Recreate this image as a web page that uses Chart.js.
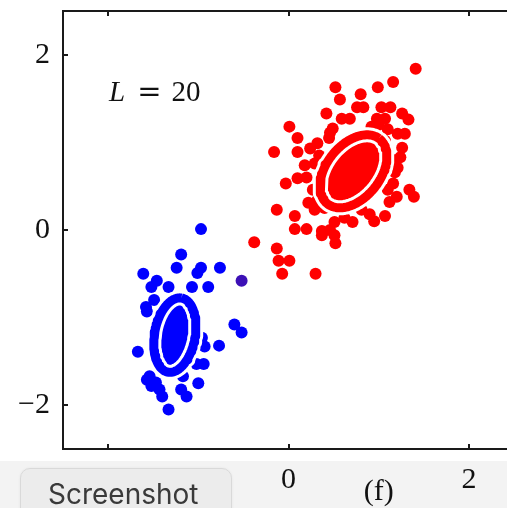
<!DOCTYPE html>
<html>
<head>
<meta charset="utf-8">
<script src="https://cdn.jsdelivr.net/npm/chart.js@4"></script>
<style>
  html, body { margin: 0; padding: 0; overflow: hidden; background: #fff; }
  #wrap { position: relative; width: 507px; height: 508px; overflow: hidden; }
  #band { position: absolute; left: 0; top: 461px; width: 507px; height: 47px; background: #f3f3f3; }
  #plot { position: absolute; left: 0; top: 0; }
  #btn {
    position: absolute; left: 20px; top: 468px; width: 212px; height: 60px;
    box-sizing: border-box; border-radius: 10px;
    background: #ececec; border: 1px solid #d9d9d9;
    box-shadow: 0 0 3px rgba(0,0,0,0.06);
    font-family: Inter, "Noto Sans", sans-serif; font-size: 28px; color: #3a3a3a;
    padding-left: 27px; padding-top: 8px; line-height: 34px;
  }
</style>
</head>
<body>
<div id="wrap">
  <div id="band"></div>
  <canvas id="plot" width="540" height="508"></canvas>
  <div id="btn">Screenshot</div>
</div>
<script>
// Class 1 samples (red)
const redX = [1.41, 1.16, 0.99, 0.52, 0.80, 0.57, 0.76, 0.83, 1.03, 1.13,
              0.42, 1.26, 0.59, 0.98, 1.07, 1.33, 0.01, 0.46, 1.21, 1.29,
              0.10, -0.16, 0.10, 0.24, 0.32, 1.26, 1.24, 0.18, 1.18, 0.10,
              0.20, -0.03, 1.16, 1.34, 1.39, 0.22, 1.12, 1.20, -0.13, 0.07,
              0.29, 0.90, 1.07, 0.07, 0.20, 0.37, 0.46, 0.37, 0.51, 0.52,
              0.71, -0.38, -0.13, -0.11, 0.01, -0.07, 0.30, 0.49, 0.68, 0.34,
              0.29, 0.27, 0.32, 1.16, 1.21, 1.10, 0.62, 0.81, 0.51, 1.07,
              0.92, 0.62, 0.73, 0.81, 0.57, 0.68, 0.84, 0.76, 0.60, 0.79,
              1.00, 0.95, 0.40, 0.45, 1.10, 0.40];
const redY = [1.84, 1.69, 1.63, 1.63, 1.55, 1.49, 1.40, 1.40, 1.40, 1.40,
              1.33, 1.33, 1.27, 1.27, 1.27, 1.26, 1.18, 1.11, 1.10, 1.10,
              1.05, 0.89, 0.89, 0.93, 0.99, 0.94, 0.83, 0.74, 0.66, 0.59,
              0.60, 0.53, 0.53, 0.46, 0.38, 0.31, 0.32, 0.38, 0.23, 0.16,
              0.23, 0.18, 0.16, 0.01, 0.01, -0.01, 0.00, -0.06, -0.06, -0.15,
              0.09, -0.14, -0.21, -0.35, -0.35, -0.50, -0.50, 1.16, 1.27, 0.85,
              0.76, 0.46, 0.34, 0.80, 0.71, 0.46, 0.14, 0.23, 0.09, 1.02,
              1.18, 0.80, 0.91, 0.74, 0.57, 0.46, 0.57, 0.66, 0.71, 0.85,
              1.20, 0.10, 0.25, 1.05, 1.15, 0.60];

// Class 2 samples (blue)
const blueX = [-0.97, -1.19, -1.24, -0.97, -1.01, -0.76, -1.61, -1.46, -1.52, -1.33,
               -1.07, -0.89, -1.49, -1.58, -1.57, -0.60, -0.52, -0.96, -0.93, -0.77,
               -1.67, -1.02, -0.94, -1.54, -1.47, -1.52, -1.43, -1.40, -1.17, -1.19,
               -1.13, -1.00, -1.33, -1.57, -1.30, -1.22];
const blueY = [0.01, -0.28, -0.43, -0.43, -0.49, -0.43, -0.50, -0.58, -0.65, -0.65,
               -0.65, -0.65, -0.80, -0.88, -0.93, -1.08, -1.17, -1.23, -1.33, -1.32,
               -1.39, -1.53, -1.53, -1.67, -1.74, -1.78, -1.82, -1.90, -1.67, -1.82,
               -1.90, -1.75, -2.05, -1.71, -1.10, -1.30];

// Ambiguous sample between the classes
const mixedX = [-0.52];
const mixedY = [-0.58];

// Covariance ellipses: [centre x, centre y, semi-major, semi-minor, angle in degrees]
const redEllipse  = [0.72, 0.67, 0.47, 0.30, 53];
const blueEllipse = [-1.26, -1.20, 0.43, 0.225, 80];

// Axes
const xTicks = [-2, 0, 2];
const xTickLabels = ['\u22122', '0', '2'];
const yTicks = [-2, 0, 2];
const yTickLabels = ['\u22122', '0', '2'];
const axisMin = -2.5, axisMax = 2.5;

const panelLabel = { x: -1.99, y: 1.47, name: 'L', value: '20' };
const caption = { x: 1.0, text: '(f)' };

function toPoints(xs, ys) { return xs.map((x, i) => ({ x: x, y: ys[i] })); }

function ellipseOutline(e) {
  const [cx, cy, a, b, deg] = e;
  const t = deg * Math.PI / 180;
  const pts = [];
  const n = 120;
  for (let i = 0; i <= n; i++) {
    const u = i / n * 2 * Math.PI;
    pts.push({
      x: cx + a * Math.cos(u) * Math.cos(t) - b * Math.sin(u) * Math.sin(t),
      y: cy + a * Math.cos(u) * Math.sin(t) + b * Math.sin(u) * Math.cos(t)
    });
  }
  return pts;
}

const RED = '#ff0000', BLUE = '#0000ff', MIXED = '#3c10b6';
const serif = '"Liberation Serif", "DejaVu Serif", serif';

function scatterSet(data, color) {
  return { data: data, pointRadius: 6, pointHoverRadius: 6, pointBorderWidth: 0,
           backgroundColor: color, borderColor: color, showLine: false, order: 5 };
}
function haloSet(data, color) {
  return { data: data, showLine: true, pointRadius: 0, borderColor: '#ffffff', borderWidth: 15,
           fill: 'shape', backgroundColor: color, tension: 0, borderJoinStyle: 'round', order: 2 };
}
function ringSet(data, color) {
  return { data: data, showLine: true, pointRadius: 0, borderColor: color, borderWidth: 9,
           fill: false, tension: 0, borderJoinStyle: 'round', order: 1 };
}

// Frame, inward tick marks, panel annotation and caption
const decorations = {
  id: 'decorations',
  afterDatasetsDraw(chart) {
    const { ctx, chartArea: a, scales: { x, y } } = chart;
    ctx.save();
    ctx.strokeStyle = '#1a1a1a';
    ctx.lineWidth = 2;
    ctx.beginPath();
    ctx.moveTo(a.right, a.top); ctx.lineTo(a.left, a.top);
    ctx.lineTo(a.left, a.bottom); ctx.lineTo(a.right, a.bottom);
    ctx.lineTo(a.right, a.top);
    ctx.stroke();
    const tl = 5;
    ctx.beginPath();
    xTicks.forEach(v => {
      const px = Math.round(x.getPixelForValue(v));
      ctx.moveTo(px, a.top); ctx.lineTo(px, a.top + tl);
      ctx.moveTo(px, a.bottom); ctx.lineTo(px, a.bottom - tl);
    });
    yTicks.forEach(v => {
      const py = Math.round(y.getPixelForValue(v));
      ctx.moveTo(a.left, py); ctx.lineTo(a.left + tl, py);
      ctx.moveTo(a.right, py); ctx.lineTo(a.right - tl, py);
    });
    ctx.stroke();

    // "L = 20"
    const lx = x.getPixelForValue(panelLabel.x);
    const ly = y.getPixelForValue(panelLabel.y);
    ctx.fillStyle = '#111';
    ctx.textBaseline = 'alphabetic';
    ctx.textAlign = 'left';
    ctx.font = 'italic 29px ' + serif;
    ctx.fillText(panelLabel.name, lx, ly);
    let cx = lx + ctx.measureText(panelLabel.name).width + 12;
    ctx.font = '29px "DejaVu Serif", serif';
    ctx.fillText('=', cx, ly);
    cx += ctx.measureText('=').width + 10;
    ctx.font = '29px ' + serif;
    ctx.fillText(panelLabel.value, cx, ly);

    // caption under the axis
    ctx.font = '30px ' + serif;
    ctx.textAlign = 'center';
    ctx.fillText(caption.text, x.getPixelForValue(caption.x), 500);
    ctx.restore();
  }
};

new Chart(document.getElementById('plot'), {
  type: 'scatter',
  data: {
    datasets: [
      ringSet(ellipseOutline(redEllipse), RED),
      ringSet(ellipseOutline(blueEllipse), BLUE),
      haloSet(ellipseOutline(redEllipse), RED),
      haloSet(ellipseOutline(blueEllipse), BLUE),
      scatterSet(toPoints(redX, redY), RED),
      scatterSet(toPoints(blueX, blueY), BLUE),
      scatterSet(toPoints(mixedX, mixedY), MIXED)
    ]
  },
  options: {
    responsive: false,
    animation: false,
    events: [],
    layout: { padding: { top: 11, right: 26, left: 0, bottom: 0 } },
    plugins: { legend: { display: false }, tooltip: { enabled: false } },
    scales: {
      x: {
        type: 'linear', position: 'bottom', min: axisMin, max: axisMax,
        grid: { display: false, drawTicks: false },
        border: { display: false },
        afterBuildTicks: s => { s.ticks = xTicks.map(v => ({ value: v })); },
        afterFit: s => { s.height = 59; s.paddingLeft = 0; s.paddingRight = 0; },
        ticks: {
          autoSkip: false, maxRotation: 0, padding: 13, color: '#111',
          font: { family: serif, size: 30 },
          callback: v => xTickLabels[xTicks.indexOf(v)]
        }
      },
      y: {
        type: 'linear', min: axisMin, max: axisMax,
        grid: { display: false, drawTicks: false },
        border: { display: false },
        afterBuildTicks: s => { s.ticks = yTicks.map(v => ({ value: v })); },
        afterFit: s => { s.width = 63; s.paddingTop = 0; s.paddingBottom = 0; },
        ticks: {
          autoSkip: false, padding: 13, color: '#111',
          font: { family: serif, size: 30 },
          callback: v => yTickLabels[yTicks.indexOf(v)]
        }
      }
    }
  },
  plugins: [decorations]
});
</script>
</body>
</html>
